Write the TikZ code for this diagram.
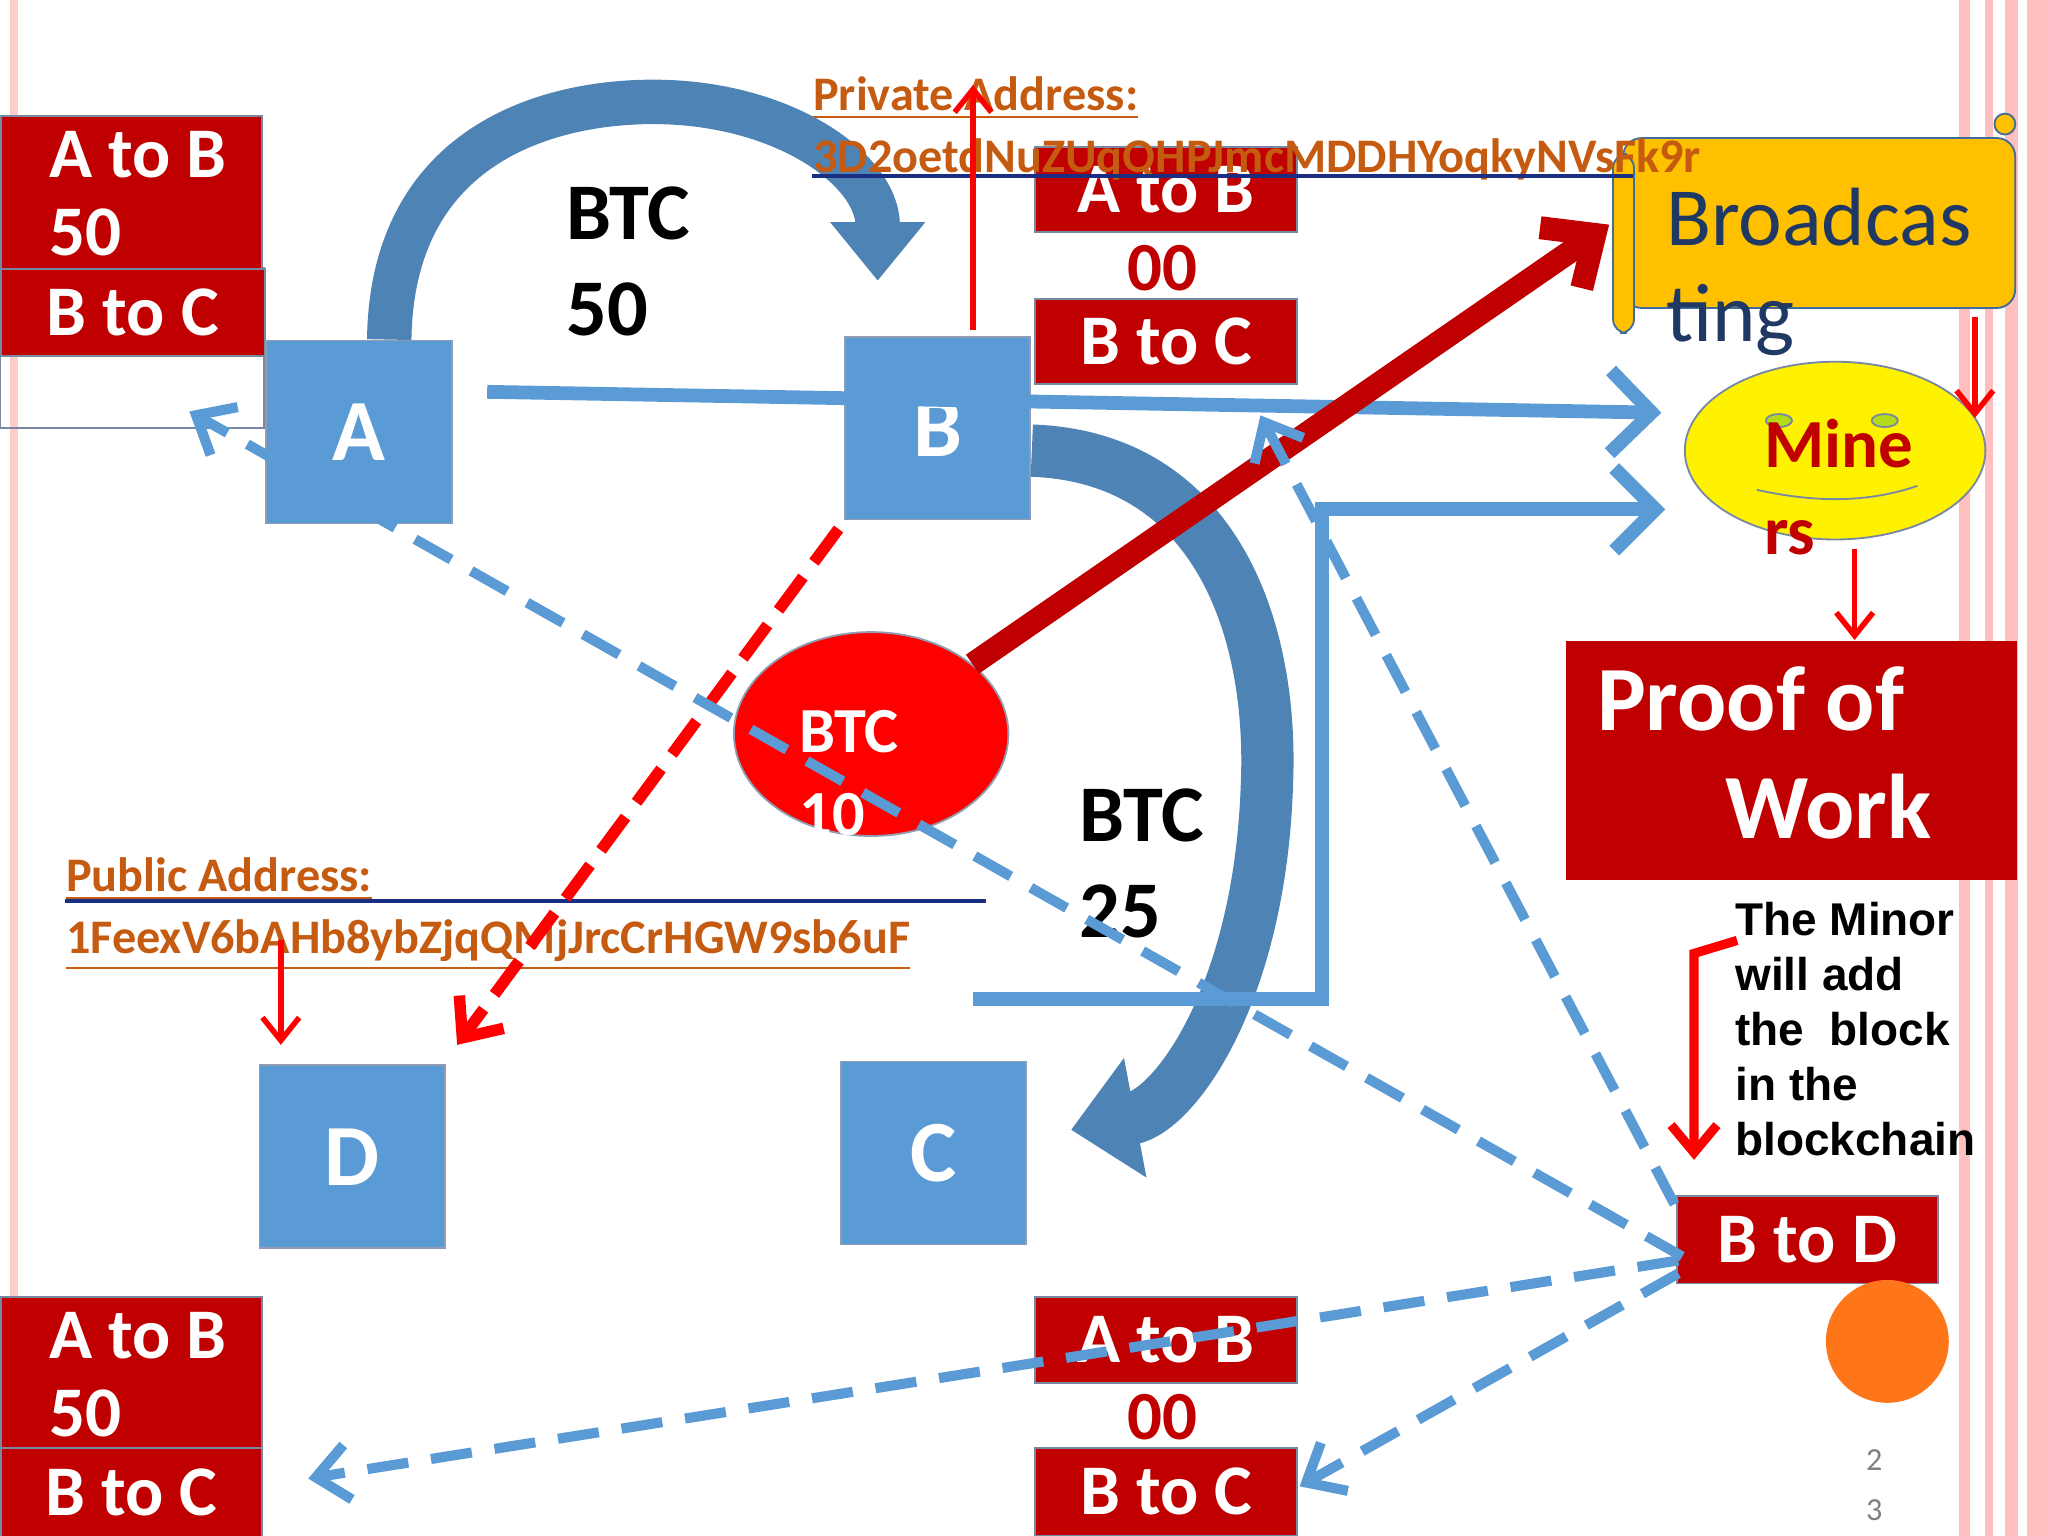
\documentclass[tikz,border=0pt]{standalone}
\usepackage{fontspec}
\setmainfont{Carlito}
\newfontfamily\arialf{Liberation Sans}
\usetikzlibrary{arrows.meta,positioning,calc,shapes.geometric}
\definecolor{boxred}{HTML}{C00000}
\definecolor{sqblue}{HTML}{5B9BD5}
\definecolor{addr}{HTML}{C55A11}
\definecolor{navy}{HTML}{1F3864}
\definecolor{gold}{HTML}{FFC000}
\tikzset{
  tx/.style={draw=navy!60,fill=boxred,text=white,font=\bfseries\fontsize{15.5}{18}\selectfont,inner sep=0pt,anchor=north west},
  wt/.style={text=white,font=\bfseries\fontsize{15.5}{17}\selectfont,align=left,anchor=north west,inner sep=0pt},
  sq/.style={draw=navy!50,fill=sqblue,text=white,font=\bfseries\fontsize{19}{24}\selectfont,anchor=north west,inner sep=0pt,minimum width=1.42cm,minimum height=1.4cm},
  bdash/.style={draw=sqblue,line width=2.2pt,dash pattern=on 9pt off 5pt,-{Straight Barb[length=7pt,width=12pt]}},
  rarr/.style={draw=red,line width=1.2pt,-{Straight Barb[length=5pt,width=8pt]}},
  big/.style={draw=none,font=\bfseries\fontsize{17.5}{21}\selectfont,align=left,anchor=north west,inner sep=0pt}
}
\begin{document}
\begin{tikzpicture}[x=0.01cm,y=-0.01cm]
\useasboundingbox (0,0) rectangle (1568,1176);
% frame
\fill[red!20] (8,0) rectangle (14,1176);
\foreach \x/\w in {1500/8,1520/6,1535/10,1552/16} \fill[red!25] (\x,0) rectangle ++(\w,1176);
% blocks left and centre
\draw[navy!60,thin] (0,205) rectangle (202,328);
\node[tx,minimum width=2cm,minimum height=1.17cm] (ab1) at (0,88) {};
\node[wt] (ab1t) at (37,100) {A to B\\50};
\node[tx,minimum width=2.02cm,minimum height=0.67cm] (bc1) at (0,205) {B to C};
\node[tx,minimum width=2cm,minimum height=0.65cm] (ab2) at (792,112) {A to B};
\node[text=boxred,font=\bfseries\fontsize{15}{18}\selectfont] (zz1) at (890,205) {00};
\node[tx,minimum width=2cm,minimum height=0.65cm] (bc2) at (792,228) {B to C};
\node[tx,minimum width=2cm,minimum height=1.16cm] (ab3) at (0,992) {};
\node[wt] (ab3t) at (37,1004) {A to B\\50};
\node[tx,minimum width=2cm,minimum height=0.68cm] (bc3) at (0,1108) {B to C};
\node[tx,minimum width=2cm,minimum height=0.66cm] (ab4) at (792,992) {A to B};
\node[text=boxred,font=\bfseries\fontsize{15}{18}\selectfont] (zz2) at (890,1085) {00};
\node[tx,minimum width=2cm,minimum height=0.67cm] (bc4) at (792,1108) {B to C};
% squares
\node[sq] (A) at (203,260) {A};
\node[sq] (B) at (646,257) {B};
\node[sq] (D) at (198,815) {D};
\node[sq] (C) at (643,812) {C};
% curved arrows
\draw[sqblue!85!black,line width=0.34cm,-{Triangle[length=0.45cm,width=0.7cm]}] (298,260) .. controls (300,110) and (420,78) .. (500,78) .. controls (600,78) and (672,130) .. (672,215);
\draw[sqblue!85!black,line width=0.4cm,-{Triangle[length=0.5cm,width=0.9cm]}] (790,345) .. controls (930,350) and (975,480) .. (970,600) .. controls (965,760) and (900,850) .. (820,865);
\node[big] (t50) at (433,142) {BTC\\50};
\node[big] (t25) at (826,603) {BTC\\25};
% solid blue lines
\coordinate (s1) at (373,300);
\coordinate (e1) at (1272,316);
\draw[sqblue,line width=3pt,-{Straight Barb[length=9pt,width=18pt]}] (s1) -- (e1);
\coordinate (s2) at (745,765);
\coordinate (k1) at (1012,765);
\coordinate (k2) at (1012,390);
\coordinate (e2) at (1275,390);
\draw[sqblue,line width=3pt,-{Straight Barb[length=9pt,width=18pt]}] (s2) -- (k1) -- (k2) -- (e2);
% red coin
\node[ellipse,draw=navy!50,fill=red,minimum width=2.1cm,minimum height=1.56cm] (coin) at (667,562) {};
\node[text=white,font=\bfseries\fontsize{14}{18}\selectfont,align=left] (coint) at (650,592) {BTC\\10};
\coordinate (bc) at (1232,172);
\draw[boxred,line width=5pt,-{Straight Barb[length=9pt,width=16pt]}] (coin) -- (bc);
% broadcasting scroll
\node[draw=sqblue!70!black,fill=gold,rounded corners=4pt,minimum width=3cm,minimum height=1.3cm,anchor=north west] (scroll) at (1242,105) {};
\draw[sqblue!70!black,fill=gold,rounded corners=3pt] (1235,118) rectangle (1251,255);
\draw[sqblue!70!black,fill=gold] (1535,95) circle (8);
\node[text=navy,font=\fontsize{18}{21}\selectfont,align=left,anchor=north west,inner sep=0pt] (bt) at (1275,143) {Broadcas\\ting};
% addresses
\node[text=addr,font=\bfseries\fontsize{10.5}{13.5}\selectfont,align=left,anchor=north west,inner sep=0pt] (priv) at (622,58) {\underline{Private Address:}\\3D2oetdNuZUqQHPJmcMDDHYoqkyNVsFk9r};
\coordinate (pl1) at (622,135); \coordinate (pl2) at (1250,135);
\draw[navy!80!blue,thick] (pl1) -- (pl2);
\node[text=addr,font=\bfseries\fontsize{10.5}{13.5}\selectfont,align=left,anchor=north west,inner sep=0pt] (pub) at (50,656) {\underline{Public Address:}\\\underline{1FeexV6bAHb8ybZjqQMjJrcCrHGW9sb6uF}};
\coordinate (ql1) at (50,690); \coordinate (ql2) at (755,690);
\draw[navy!80!blue,thick] (ql1) -- (ql2);
% miners
\node[ellipse,draw=navy!60,fill=yellow,minimum width=2.3cm,minimum height=1.36cm] (min) at (1405,345) {};
\draw[navy!60] (1345,375) .. controls (1390,385) and (1430,385) .. (1468,372);
\draw[navy!60,fill=yellow!70!green] (1362,322) ellipse (10 and 5);
\draw[navy!60,fill=yellow!70!green] (1443,322) ellipse (10 and 5);
\node[text=boxred,font=\bfseries\fontsize{15}{19}\selectfont,align=left,anchor=north west,inner sep=0pt] (mt) at (1350,320) {Mine\\rs};
% proof of work
\node[fill=boxred,minimum width=3.45cm,minimum height=1.83cm,anchor=north west] (pow) at (1198,490) {};
\node[text=white,font=\bfseries\fontsize{20}{23.5}\selectfont,align=left,anchor=north west,inner sep=0pt] (powt) at (1222,510) {Proof of\\\hspace*{28pt}Work};
\node[font=\arialf\bfseries\fontsize{10}{12}\selectfont,align=left,anchor=north west,inner sep=0pt] (note) at (1328,690) {The Minor\\will add\\the\ \ block\\in the\\blockchain};
\node[tx,minimum width=2cm,minimum height=0.67cm] (bd) at (1283,915) {B to D};
\node[circle,fill=orange!80!red!90,minimum size=0.94cm] (dot) at (1445,1027) {};
% red arrows
\coordinate (r1) at (745,253); \coordinate (r1e) at (745,65);
\draw[rarr] (r1) -- (r1e);
\coordinate (r2) at (1512,243); \coordinate (r2e) at (1512,320);
\draw[rarr] (r2) -- (r2e);
\coordinate (r3) at (1420,420); \coordinate (r3e) at (1420,490);
\draw[rarr] (r3) -- (r3e);
\coordinate (r4) at (215,720); \coordinate (r4e) at (215,800);
\draw[rarr] (r4) -- (r4e);
\coordinate (r5) at (1330,720); \coordinate (r5k) at (1297,730); \coordinate (r5e) at (1297,888);
\draw[draw=red,line width=2pt,-{Straight Barb[length=6pt,width=10pt]}] (r5) -- (r5k) -- (r5e);
\coordinate (r6) at (642,405); \coordinate (r6e) at (350,800);
\draw[red,line width=2.5pt,dash pattern=on 9pt off 4pt,-{Straight Barb[length=7pt,width=12pt]}] (r6) -- (r6e);
% dashed blue
\coordinate (d0a) at (1285,965); \coordinate (d0b) at (1285,975);
\coordinate (d0c) at (1282,922); \coordinate (d0d) at (1288,962);
\coordinate (d1) at (236,1132); \coordinate (d2) at (995,1138);
\coordinate (d3) at (965,318); \coordinate (d4) at (145,315);
\draw[bdash] (d0a) -- (d1);
\draw[bdash] (d0b) -- (d2);
\draw[bdash] (d0c) -- (d3);
\draw[bdash] (d0d) -- (d4);
% page number
\node[text=gray,font=\fontsize{7}{11}\selectfont,align=center] (pg) at (1435,1137) {2\\3};
\end{tikzpicture}
\end{document}
